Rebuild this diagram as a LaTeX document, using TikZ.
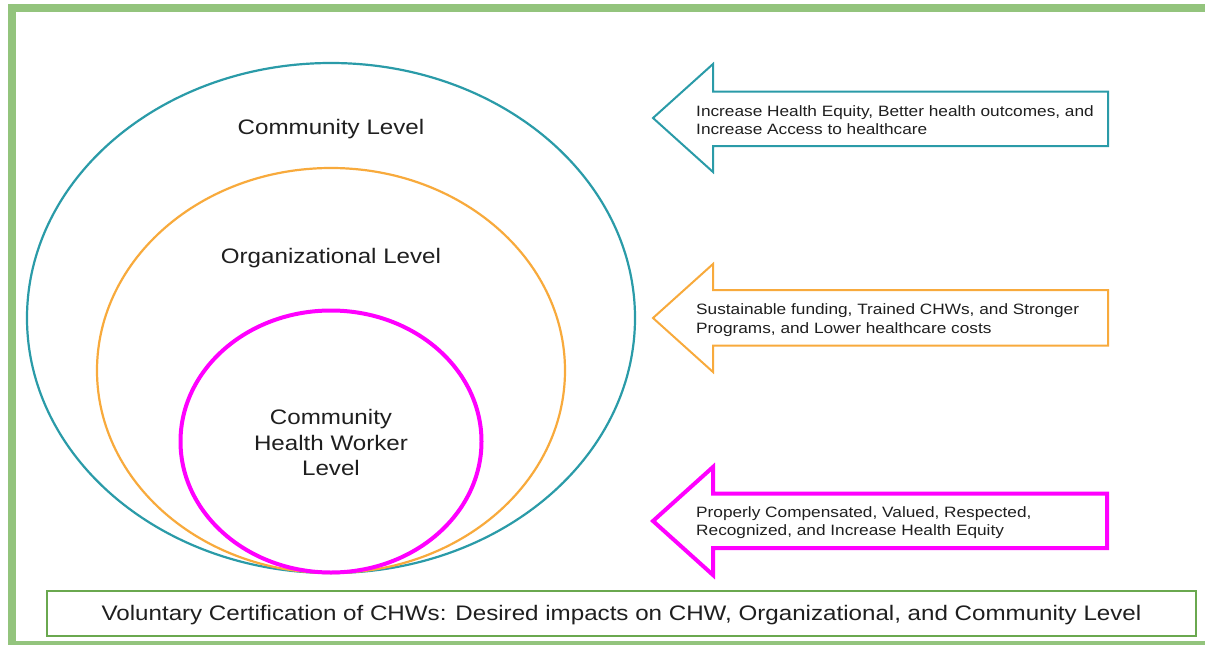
\documentclass[tikz,border=0pt]{standalone}
\usepackage{fontspec}
\setmainfont[FakeStretch=1.15]{Liberation Sans}
\begin{document}
\definecolor{frameGreen}{HTML}{93C47D}
\definecolor{boxGreen}{HTML}{6AA84F}
\definecolor{tealC}{HTML}{2A9BA8}
\definecolor{orangeC}{HTML}{F8AA3C}
\definecolor{magentaC}{HTML}{FF00FF}
\definecolor{inkC}{HTML}{1F1F1F}
\begin{tikzpicture}[x=1pt,y=-1pt,
  levellabel/.style={text=inkC,font=\fontsize{21}{25.5}\selectfont,align=center},
  arrowtext/.style={text=inkC,font=\fontsize{15}{18.5}\selectfont,align=left,anchor=west,inner sep=0pt},
  ring/.style={line width=2.2pt},
  impact/.style={line width=2pt,line join=miter,fill=white}]
\useasboundingbox (0,0) rectangle (1205,645);
\fill[white] (0,0) rectangle (1205,645);
% outer frame, open on the right
\draw[frameGreen,line width=8pt] (11.5,8) rectangle (1220,645);

% nested levels
\draw[ring,tealC] (331,318) ellipse [x radius=304,y radius=255];
\draw[ring,orangeC] (331,370.5) ellipse [x radius=234,y radius=202.5];
\draw[magentaC,line width=4pt] (331,441.5) ellipse [x radius=150.5,y radius=131];

\node[levellabel] (community) at (331,129) {Community Level};
\node[levellabel] (organization) at (331,258) {Organizational Level};
\node[levellabel] (chw) at (331,442.5) {Community\\Health Worker\\Level};

% impact arrows pointing back at the levels
\draw[impact,draw=tealC] (653,118) -- (713,64) -- (713,91.5) -- (1108,91.5) -- (1108,146) -- (713,146) -- (713,172) -- cycle;
\node[arrowtext] (commImpact) at (696,120) {Increase Health Equity, Better health outcomes, and\\Increase Access to healthcare};

\draw[impact,draw=orangeC] (653,318) -- (713,264) -- (713,290) -- (1108,290) -- (1108,345.5) -- (713,345.5) -- (713,372) -- cycle;
\node[arrowtext] (orgImpact) at (696,320) {Sustainable funding, Trained CHWs, and Stronger\\Programs, and Lower healthcare costs};

\draw[impact,draw=magentaC,line width=4pt] (653,521) -- (713,467) -- (713,493.5) -- (1107,493.5) -- (1107,548) -- (713,548) -- (713,575) -- cycle;
\node[arrowtext] (chwImpact) at (696,522.5) {Properly Compensated, Valued, Respected,\\Recognized, and Increase Health Equity};

% caption box
\node[draw=boxGreen,line width=2pt,minimum width=1149pt,minimum height=45pt,inner sep=0pt,
      text=inkC,font=\fontsize{21}{24}\selectfont] (caption) at (621.5,613) {};
\node[text=inkC,font=\fontsize{21}{24}\selectfont] (captionText) at (621.5,615)
  {Voluntary Certification of CHWs: Desired impacts on CHW, Organizational, and Community Level};
\end{tikzpicture}
\end{document}
